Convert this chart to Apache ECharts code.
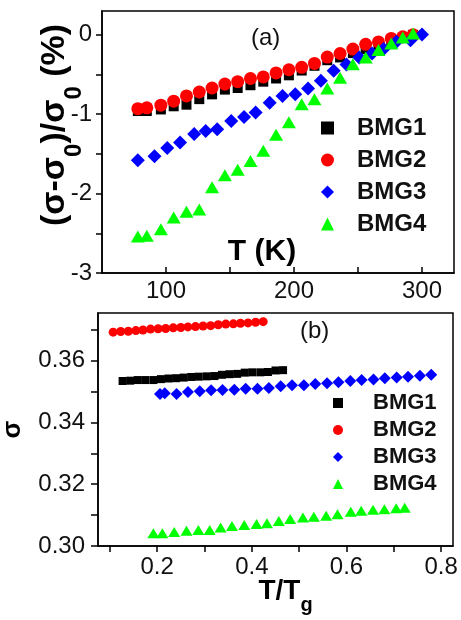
<!DOCTYPE html>
<html>
<head>
<meta charset="utf-8">
<script src="https://cdn.jsdelivr.net/npm/echarts@6/dist/echarts.min.js"></script>
<style>
html, body { margin: 0; padding: 0; background: #fff; }
#main { width: 461px; height: 620px; }
</style>
</head>
<body>
<div id="main"></div>
<script>
var FONT = '"Liberation Sans", Arial, sans-serif';
var names = ['BMG1', 'BMG2', 'BMG3', 'BMG4'];
var colors = ['#000000', '#ff0000', '#0000ff', '#00ff00'];
var symbols = ['rect', 'circle', 'diamond', 'triangle'];

// panel (a): T (K) vs (sigma-sigma0)/sigma0 (%)
var tempA = [78, 85, 96, 106, 116, 126, 136, 146, 156, 166, 176, 186, 196, 206, 216, 226, 236, 246, 256, 266, 276, 285, 293];
var tempA3 = [78, 91, 101, 111, 122, 131, 140, 151, 161, 170, 181, 191, 201, 211, 221, 231, 241, 251, 261, 270, 280, 291, 300];
var bmg1A = [-0.96, -0.96, -0.94, -0.90, -0.88, -0.81, -0.75, -0.69, -0.67, -0.635, -0.59, -0.55, -0.51, -0.45, -0.39, -0.32, -0.285, -0.23, -0.18, -0.13, -0.08, -0.04, 0.0];
var bmg2A = [-0.93, -0.92, -0.886, -0.836, -0.77, -0.72, -0.67, -0.62, -0.59, -0.55, -0.53, -0.48, -0.44, -0.41, -0.36, -0.28, -0.235, -0.18, -0.12, -0.09, -0.045, -0.025, 0.0];
var bmg3A = [-1.58, -1.53, -1.425, -1.357, -1.25, -1.21, -1.19, -1.085, -1.034, -0.98, -0.857, -0.77, -0.75, -0.676, -0.58, -0.454, -0.374, -0.285, -0.235, -0.18, -0.088, -0.067, 0.005];
var bmg4A = [-2.54, -2.53, -2.45, -2.30, -2.23, -2.20, -1.92, -1.77, -1.70, -1.59, -1.46, -1.26, -1.10, -0.874, -0.81, -0.676, -0.54, -0.37, -0.285, -0.19, -0.11, -0.033, 0.018];

// panel (b): T/Tg vs sigma
var ratio1 = [0.127, 0.143, 0.159, 0.175, 0.192, 0.208, 0.224, 0.240, 0.256, 0.272, 0.288, 0.305, 0.321, 0.337, 0.353, 0.369, 0.385, 0.401, 0.418, 0.434, 0.450, 0.466];
var sigma1 = [0.3534, 0.3535, 0.3537, 0.3537, 0.3537, 0.3540, 0.3542, 0.3543, 0.3545, 0.3547, 0.3548, 0.3549, 0.3550, 0.3554, 0.3556, 0.3557, 0.3561, 0.3562, 0.3562, 0.3563, 0.3568, 0.3569];
var ratio2 = [0.107, 0.123, 0.139, 0.155, 0.170, 0.186, 0.202, 0.218, 0.234, 0.250, 0.265, 0.281, 0.297, 0.313, 0.329, 0.345, 0.361, 0.376, 0.392, 0.408, 0.424];
var sigma2 = [0.3692, 0.3694, 0.3695, 0.3697, 0.3699, 0.3702, 0.3703, 0.3704, 0.3706, 0.3707, 0.3709, 0.3710, 0.3712, 0.3713, 0.3716, 0.3718, 0.3719, 0.3721, 0.3722, 0.3724, 0.3726];
var ratio3 = [0.206, 0.216, 0.241, 0.265, 0.290, 0.314, 0.338, 0.363, 0.387, 0.412, 0.436, 0.461, 0.485, 0.510, 0.534, 0.559, 0.583, 0.608, 0.632, 0.657, 0.681, 0.706, 0.730, 0.755, 0.779];
var sigma3 = [0.3492, 0.3494, 0.3492, 0.3498, 0.3501, 0.3504, 0.3505, 0.3506, 0.3509, 0.3509, 0.3511, 0.3517, 0.3520, 0.3520, 0.3524, 0.3527, 0.3530, 0.3534, 0.3537, 0.3539, 0.3543, 0.3545, 0.3548, 0.3551, 0.3554];
var ratio4 = [0.192, 0.211, 0.236, 0.262, 0.287, 0.311, 0.334, 0.358, 0.384, 0.410, 0.432, 0.457, 0.481, 0.508, 0.531, 0.557, 0.581, 0.609, 0.631, 0.656, 0.680, 0.705, 0.723];
var sigma4 = [0.3041, 0.3041, 0.3045, 0.3049, 0.3052, 0.3052, 0.3060, 0.3065, 0.3068, 0.3071, 0.3074, 0.3081, 0.3087, 0.3092, 0.3095, 0.3098, 0.3103, 0.3111, 0.3114, 0.3117, 0.3119, 0.3122, 0.3124];

// ticks / labels
var ticksXA = [100, 150, 200, 250, 300];
var labelsXA = [100, 200, 300];
var ticksYA = [-3, -2.5, -2, -1.5, -1, -0.5, 0];
var labelsYA = [-3, -2, -1, 0];
var ticksXB = [0.1, 0.2, 0.3, 0.4, 0.5, 0.6, 0.7, 0.8];
var labelsXB = [0.2, 0.4, 0.6, 0.8];
var ticksYB = [0.30, 0.31, 0.32, 0.33, 0.34, 0.35, 0.36, 0.37];
var labelsYB = [0.30, 0.32, 0.34, 0.36];

function zip(xs, ys) {
    var out = [];
    for (var i = 0; i < xs.length; i++) out.push([xs[i], ys[i]]);
    return out;
}

var dataA = [zip(tempA, bmg1A), zip(tempA, bmg2A), zip(tempA3, bmg3A), zip(tempA, bmg4A)];
var dataB = [zip(ratio1, sigma1), zip(ratio2, sigma2), zip(ratio3, sigma3), zip(ratio4, sigma4)];
var sizeA = [10, 13, 14, [14, 12]];
var sizeB = [8, 9, 12, [12, 10]];

var axisLine = { show: true, onZero: false, lineStyle: { color: '#000', width: 1.5 } };

var series = [];
for (var i = 0; i < 4; i++) {
    series.push({
        name: names[i], type: 'scatter', xAxisIndex: 0, yAxisIndex: 0,
        symbol: symbols[i], symbolSize: sizeA[i],
        itemStyle: { color: colors[i], opacity: 1 },
        data: dataA[i]
    });
}
for (var i = 0; i < 4; i++) {
    series.push({
        name: names[i], type: 'scatter', xAxisIndex: 1, yAxisIndex: 1,
        symbol: symbols[i], symbolSize: sizeB[i],
        itemStyle: { color: colors[i], opacity: 1 },
        data: dataB[i]
    });
}

var option = {
    animation: false,
    backgroundColor: '#fff',
    textStyle: { fontFamily: FONT },
    title: [
        { text: '(a)', left: 251, top: 26, padding: 0,
          textStyle: { fontSize: 24, fontWeight: 'normal', color: '#111', fontFamily: FONT } },
        { text: '(b)', left: 300, top: 319, padding: 0,
          textStyle: { fontSize: 24, fontWeight: 'normal', color: '#111', fontFamily: FONT } }
    ],
    legend: [
        {
            data: names, orient: 'vertical', left: 321, top: 116, padding: 0,
            itemWidth: 13, itemHeight: 13, itemGap: 8,
            textStyle: { fontSize: 24, fontWeight: 'bold', color: '#111', fontFamily: FONT, padding: [0, 0, 0, 18] }
        },
        {
            data: names, orient: 'vertical', left: 333, top: 392, padding: 0,
            itemWidth: 10, itemHeight: 10, itemGap: 5,
            textStyle: { fontSize: 22, fontWeight: 'bold', color: '#111', fontFamily: FONT, padding: [0, 0, 0, 25] }
        }
    ],
    grid: [
        { left: 102, right: 7, top: 11, height: 262, show: true, borderColor: '#000', borderWidth: 1.5,
          containLabel: false, outerBoundsMode: 'none' },
        { left: 98, right: 8, top: 313, height: 233, show: true, borderColor: '#000', borderWidth: 1.5,
          containLabel: false, outerBoundsMode: 'none' }
    ],
    xAxis: [
        {
            type: 'value', gridIndex: 0, min: 50, max: 325,
            axisLine: axisLine,
            axisTick: { show: true, inside: true, length: 6, customValues: ticksXA, lineStyle: { color: '#000', width: 1.5 } },
            axisLabel: { customValues: labelsXA, margin: 6, fontSize: 24, color: '#111', fontFamily: FONT },
            splitLine: { show: false },
            name: 'T (K)', nameLocation: 'middle', nameGap: -36, nameMoveOverlap: false,
            nameTextStyle: { fontSize: 30, fontWeight: 'bold', color: '#000', fontFamily: FONT, padding: [0, 32, 0, 0] }
        },
        {
            type: 'value', gridIndex: 1, min: 0.075, max: 0.825,
            axisLine: axisLine,
            axisTick: { show: true, inside: false, length: 6, customValues: ticksXB, lineStyle: { color: '#000', width: 1.5 } },
            axisLabel: { customValues: labelsXB, margin: 9, fontSize: 24, color: '#111', fontFamily: FONT,
                         formatter: function (v) { return v.toFixed(1); } },
            splitLine: { show: false },
            name: '{m|T/T}{g|g}', nameLocation: 'middle', nameGap: 31, nameMoveOverlap: false,
            nameTextStyle: {
                fontSize: 28, fontWeight: 'bold', color: '#000', fontFamily: FONT, padding: [0, 0, 0, 20],
                rich: {
                    m: { fontSize: 28, fontWeight: 'bold', color: '#000', fontFamily: FONT, verticalAlign: 'top' },
                    g: { fontSize: 20, fontWeight: 'bold', color: '#000', fontFamily: FONT, verticalAlign: 'top', padding: [18, 0, 0, 0] }
                }
            }
        }
    ],
    yAxis: [
        {
            type: 'value', gridIndex: 0, min: -3, max: 0.3,
            axisLine: axisLine,
            axisTick: { show: true, inside: false, length: 6, customValues: ticksYA, lineStyle: { color: '#000', width: 1.5 } },
            axisLabel: { customValues: labelsYA, margin: 10, fontSize: 24, color: '#111', fontFamily: FONT,
                         formatter: function (v) { return String(Math.round(v)); } },
            splitLine: { show: false },
            name: '{m|(σ-σ}{s|0}{m|)/σ}{s|0}{m| (%)}', nameLocation: 'middle', nameGap: 16, nameMoveOverlap: false,
            nameTextStyle: {
                fontSize: 34, fontWeight: 'bold', color: '#000', fontFamily: FONT, padding: [0, 0, 0, 34],
                rich: {
                    m: { fontSize: 34, fontWeight: 'bold', color: '#000', fontFamily: FONT, verticalAlign: 'top' },
                    s: { fontSize: 24, fontWeight: 'bold', color: '#000', fontFamily: FONT, verticalAlign: 'top', padding: [24, 0, 0, 0] }
                }
            }
        },
        {
            type: 'value', gridIndex: 1, min: 0.30, max: 0.3754,
            axisLine: axisLine,
            axisTick: { show: true, inside: false, length: 7, customValues: ticksYB, lineStyle: { color: '#000', width: 1.5 } },
            axisLabel: { customValues: labelsYB, margin: 13, fontSize: 24, color: '#111', fontFamily: FONT,
                         formatter: function (v) { return v.toFixed(2); } },
            splitLine: { show: false },
            name: 'σ', nameLocation: 'middle', nameGap: 72, nameMoveOverlap: false,
            nameTextStyle: { fontSize: 26, fontWeight: 'bold', color: '#000', fontFamily: FONT }
        }
    ],
    series: series
};

var myChart = echarts.init(document.getElementById('main'));
myChart.setOption(option);
</script>
</body>
</html>
